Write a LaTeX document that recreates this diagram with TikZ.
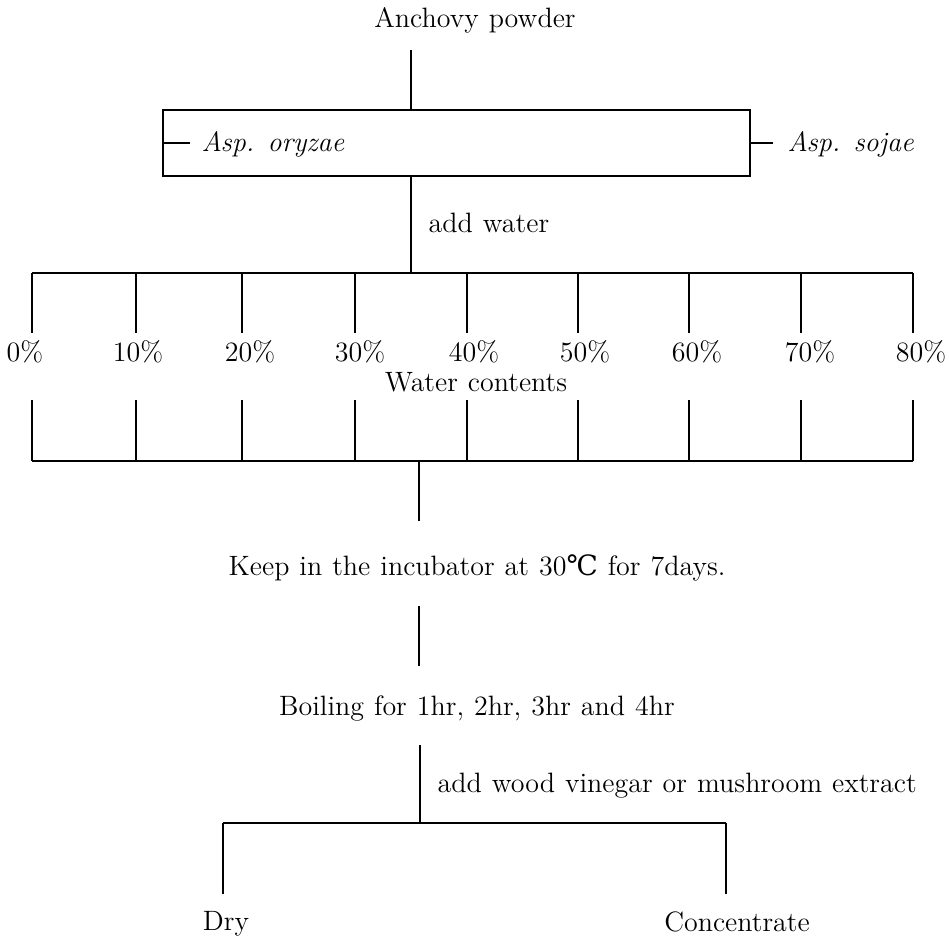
\documentclass[tikz,border=0pt]{standalone}
\usepackage{fontspec}
\newfontfamily\degfont{DejaVu Serif}
\usetikzlibrary{positioning}
\newcommand\txtfont{\fontsize{14}{16}\selectfont\spaceskip=5pt plus 1pt\relax}
\tikzset{
  txt/.style={font=\txtfont, inner sep=0pt, anchor=base},
  spec/.style={txt, font=\txtfont\itshape, anchor=base west},
  frame/.style={draw, minimum width=293.5pt, minimum height=33pt, inner sep=0pt}
}

\begin{document}
\begin{tikzpicture}[x=0.5pt,y=-0.5pt,line width=0.7pt]
\useasboundingbox (0,0) rectangle (949,941);

% raw material and the two strains
\node[txt] (anch) at (475,28) {Anchovy powder};
\node[frame] (box) at (456.5,143) {};
\node[spec] (oryz) at (201,152) {Asp. oryzae};
\node[spec] (soja) at (787,152) {Asp. sojae};
\coordinate (top) at (411,50);
\coordinate (oryzL) at (190,143);
\coordinate (sojaL) at (773,143);
\draw (top) -- (top |- box.north);
\draw (box.west) -- (oryzL);
\draw (box.east) -- (sojaL);

% water contents
\node[txt, anchor=base west] (water) at (428,233) {add water};
\coordinate (mix) at (411,273);
\draw (top |- box.south) -- (mix);
\foreach \x/\lx/\p [count=\i] in {32/25/0,136/138/10,242/250/20,355/360/30,467/474/40,578/585/50,689/697/60,801/810/70,913/921/80}{
  \coordinate (u\i) at (\x,273);
  \coordinate (l\i) at (\x,461);
  \node[txt] (p\i) at (\lx,362) {\p\%};
  \draw (u\i) -- ++(0,60);
  \draw (l\i) -- ++(0,-61);
}
\draw (u1) -- (u9);
\draw (l1) -- (l9);
\node[txt] (wc) at (476,392) {Water contents};

% incubation and boiling
\node[txt] (keep) at (477,575) {Keep in the incubator at 30{\degfont ℃} for 7days.};
\node[txt] (boil) at (477,715) {Boiling for 1hr, 2hr, 3hr and 4hr};
\coordinate (out) at (419,461);
\coordinate (k1) at (419,606);
\draw (out) -- ++(0,60);
\draw (k1) -- ++(0,60);

% products
\node[txt, anchor=base west] (vin) at (437,792) {add wood vinegar or mushroom extract};
\node[txt] (dry) at (226,930) {Dry};
\node[txt] (conc) at (737,931) {Concentrate};
\coordinate (split) at (420,823);
\coordinate (dl) at (223,823);
\coordinate (cr) at (726,823);
\draw (split) -- ++(0,-78);
\draw (dl) -- (cr);
\draw (dl) -- ++(0,71);
\draw (cr) -- ++(0,71);
\end{tikzpicture}
\end{document}
